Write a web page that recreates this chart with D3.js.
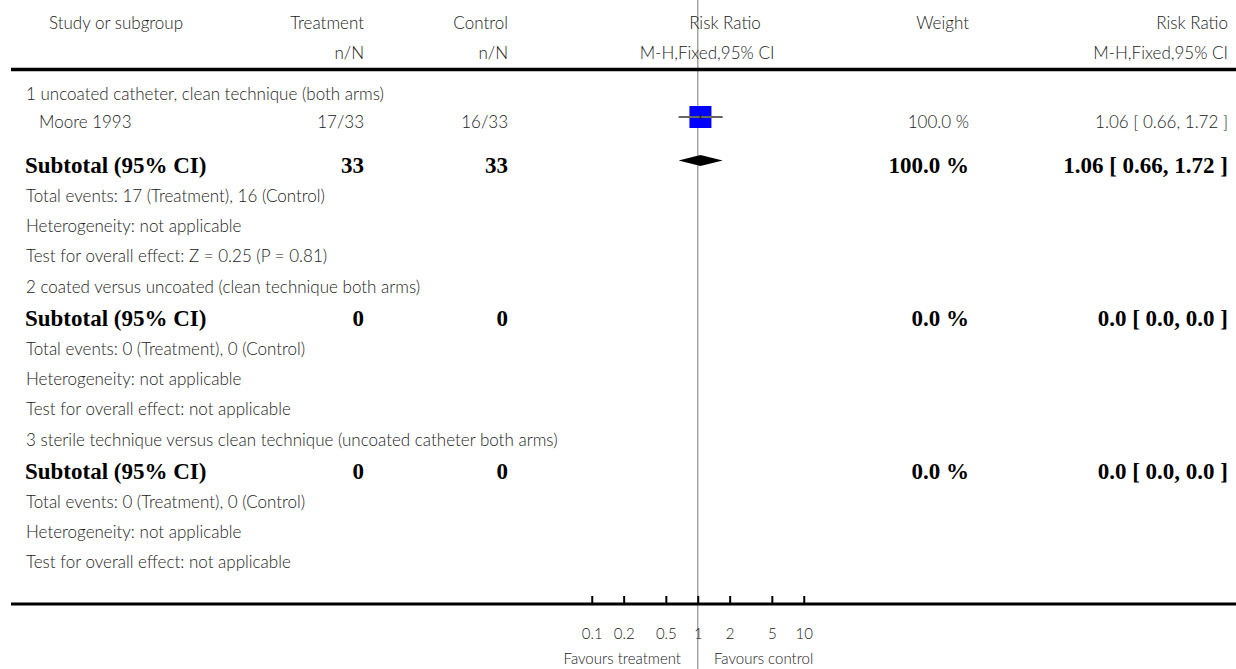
<!DOCTYPE html>
<html>
<head>
<meta charset="utf-8">
<script src="https://cdn.jsdelivr.net/npm/d3@7"></script>
<style>
  html, body { margin: 0; padding: 0; background: #fff; }
  svg { display: block; }
</style>
</head>
<body>
<svg id="chart" width="1236" height="669"></svg>
<script>
// ---- Data -------------------------------------------------------------
const subgroupTitles = [
  "1 uncoated catheter, clean technique (both arms)",
  "2 coated versus uncoated (clean technique both arms)",
  "3 sterile technique versus clean technique (uncoated catheter both arms)"
];

// Individual studies
const studySubgroup = [0];
const studyNames = ["Moore 1993"];
const studyTreatEvents = [17];
const studyTreatTotals = [33];
const studyCtrlEvents = [16];
const studyCtrlTotals = [33];
const studyRR = [1.06];
const studyLow = [0.66];
const studyHigh = [1.72];
const studyWeights = [100.0];

// Pooled subtotals per subgroup
const subtotalTreatN = [33, 0, 0];
const subtotalCtrlN = [33, 0, 0];
const subtotalTreatEvents = [17, 0, 0];
const subtotalCtrlEvents = [16, 0, 0];
const subtotalRR = [1.06, 0.0, 0.0];
const subtotalLow = [0.66, 0.0, 0.0];
const subtotalHigh = [1.72, 0.0, 0.0];
const subtotalWeights = [100.0, 0.0, 0.0];
const heterogeneity = ["not applicable", "not applicable", "not applicable"];
const overallEffect = ["Z = 0.25 (P = 0.81)", "not applicable", "not applicable"];

// Axis
const axisTicks = [0.1, 0.2, 0.5, 1, 2, 5, 10];
const axisTickLabels = ["0.1", "0.2", "0.5", "1", "2", "5", "10"];
const favourLeft = "Favours treatment";
const favourRight = "Favours control";

// ---- Layout -----------------------------------------------------------
const W = 1236, H = 669;
const svg = d3.select("#chart");

const SANS = "Lato, 'Open Sans', sans-serif";
const SERIF = "'Liberation Serif', 'DejaVu Serif', serif";
const TEXT = "#222";
const FS = 17, FS_BOLD = 23, FS_AXIS = 15;

const col = {
  name: 49, title: 26, study: 39, info: 26, subtotal: 25,
  treat: 364, ctrl: 508, weight: 969, rr: 1228
};

const x = d3.scaleLog().domain([0.01, 100]).range([485.75, 909.75]);
const boxSize = d3.scaleSqrt().domain([0, 100]).range([0, 22]);

const fmt2 = d3.format(".2f"), fmt1 = d3.format(".1f");
const fmtRR = v => v === 0 ? "0.0" : fmt2(v);
const rrText = (r, lo, hi) => `${fmtRR(r)} [ ${fmtRR(lo)}, ${fmtRR(hi)} ]`;
const wText = w => `${fmt1(w)} %`;

// Build the list of rows with their vertical positions
const rows = [];
let y = 94;
subgroupTitles.forEach((title, g) => {
  rows.push({ type: "title", y, text: title });
  const members = studyNames.map((_, i) => i).filter(i => studySubgroup[i] === g);
  if (members.length) {
    y += 28;
    members.forEach(i => {
      rows.push({ type: "study", y, i });
      y += 43;
    });
  } else {
    y += 31;
  }
  rows.push({ type: "subtotal", y, g });
  y += 31;
  rows.push({ type: "info", y, text: `Total events: ${subtotalTreatEvents[g]} (Treatment), ${subtotalCtrlEvents[g]} (Control)` });
  y += 30;
  rows.push({ type: "info", y, text: `Heterogeneity: ${heterogeneity[g]}` });
  y += 30;
  rows.push({ type: "info", y, text: `Test for overall effect: ${overallEffect[g]}` });
  y += 31;
});

// ---- Reference line at RR = 1 ----------------------------------------
svg.append("line")
  .attr("x1", x(1)).attr("x2", x(1))
  .attr("y1", 0).attr("y2", H)
  .attr("stroke", "#a6a6a6").attr("stroke-width", 1.5);

// ---- Header -----------------------------------------------------------
function txt(xp, yp, s, anchor, opts = {}) {
  return svg.append("text")
    .attr("x", xp).attr("y", yp).attr("dy", "0.35em")
    .attr("text-anchor", anchor || "start")
    .attr("font-family", opts.bold ? SERIF : SANS)
    .attr("font-weight", opts.bold ? 700 : 300)
    .attr("font-size", opts.size || (opts.bold ? FS_BOLD : FS))
    .attr("fill", opts.bold ? "#000" : TEXT)
    .text(s);
}

const h1 = 23, h2 = 53;
txt(col.name, h1, "Study or subgroup");
txt(col.treat, h1, "Treatment", "end");
txt(col.treat, h2, "n/N", "end");
txt(col.ctrl, h1, "Control", "end");
txt(col.ctrl, h2, "n/N", "end");
txt(725, h1, "Risk Ratio", "middle");
txt(707, h2, "M-H,Fixed,95% CI", "middle");
txt(col.weight, h1, "Weight", "end");
txt(col.rr, h1, "Risk Ratio", "end");
txt(col.rr, h2, "M-H,Fixed,95% CI", "end");

svg.append("line")
  .attr("x1", 11).attr("x2", W).attr("y1", 69.5).attr("y2", 69.5)
  .attr("stroke", "#000").attr("stroke-width", 3.5);

// ---- Body rows --------------------------------------------------------
const marks = svg.append("g");
rows.forEach(r => {
  if (r.type === "title") {
    txt(col.title, r.y, r.text);
  } else if (r.type === "info") {
    txt(col.info, r.y, r.text);
  } else if (r.type === "study") {
    const i = r.i;
    txt(col.study, r.y, studyNames[i]);
    txt(col.treat, r.y, `${studyTreatEvents[i]}/${studyTreatTotals[i]}`, "end");
    txt(col.ctrl, r.y, `${studyCtrlEvents[i]}/${studyCtrlTotals[i]}`, "end");
    txt(col.weight, r.y, wText(studyWeights[i]), "end");
    txt(col.rr, r.y, rrText(studyRR[i], studyLow[i], studyHigh[i]), "end");
    const my = r.y - 5, s = boxSize(studyWeights[i]);
    marks.append("rect")
      .attr("x", x(studyRR[i]) - s / 2).attr("y", my - s / 2)
      .attr("width", s).attr("height", s)
      .attr("fill", "#0000ff");
    marks.append("line")
      .attr("x1", x(studyLow[i])).attr("x2", x(studyHigh[i]))
      .attr("y1", my).attr("y2", my)
      .attr("stroke", "#666").attr("stroke-width", 2);
    marks.append("line")
      .attr("x1", x(studyRR[i])).attr("x2", x(studyRR[i]))
      .attr("y1", my - 2).attr("y2", my + 2)
      .attr("stroke", "#222").attr("stroke-width", 1.5);
  } else if (r.type === "subtotal") {
    const g = r.g;
    txt(col.subtotal, r.y, "Subtotal (95% CI)", "start", { bold: true });
    txt(col.treat, r.y, subtotalTreatN[g], "end", { bold: true });
    txt(col.ctrl, r.y, subtotalCtrlN[g], "end", { bold: true });
    txt(col.weight, r.y, wText(subtotalWeights[g]), "end", { bold: true });
    txt(col.rr, r.y, rrText(subtotalRR[g], subtotalLow[g], subtotalHigh[g]), "end", { bold: true });
    if (subtotalWeights[g] > 0) {
      const my = r.y - 4.5;
      const pts = [
        [x(subtotalLow[g]), my],
        [x(subtotalRR[g]), my - 5.5],
        [x(subtotalHigh[g]), my],
        [x(subtotalRR[g]), my + 5.5]
      ];
      marks.append("path")
        .attr("d", d3.line()(pts) + "Z")
        .attr("fill", "#000");
    }
  }
});

// ---- Axis -------------------------------------------------------------
const axisY = 604;
svg.append("line")
  .attr("x1", 11).attr("x2", W).attr("y1", axisY).attr("y2", axisY)
  .attr("stroke", "#000").attr("stroke-width", 3);

const axisG = svg.append("g")
  .attr("transform", `translate(0,${axisY})`)
  .call(d3.axisBottom(x)
    .tickValues(axisTicks)
    .tickFormat((d, i) => axisTickLabels[i])
    .tickSizeInner(-8).tickSizeOuter(0).tickPadding(0));
axisG.select(".domain").remove();
axisG.selectAll(".tick line").attr("stroke", "#000").attr("stroke-width", 2);
axisG.selectAll(".tick text")
  .attr("y", 30).attr("dy", "0.35em")
  .attr("font-family", SANS).attr("font-weight", 300)
  .attr("font-size", FS_AXIS).attr("fill", TEXT);

txt(681, 659, favourLeft, "end", { size: FS_AXIS });
txt(714, 659, favourRight, "start", { size: FS_AXIS });
</script>
</body>
</html>
